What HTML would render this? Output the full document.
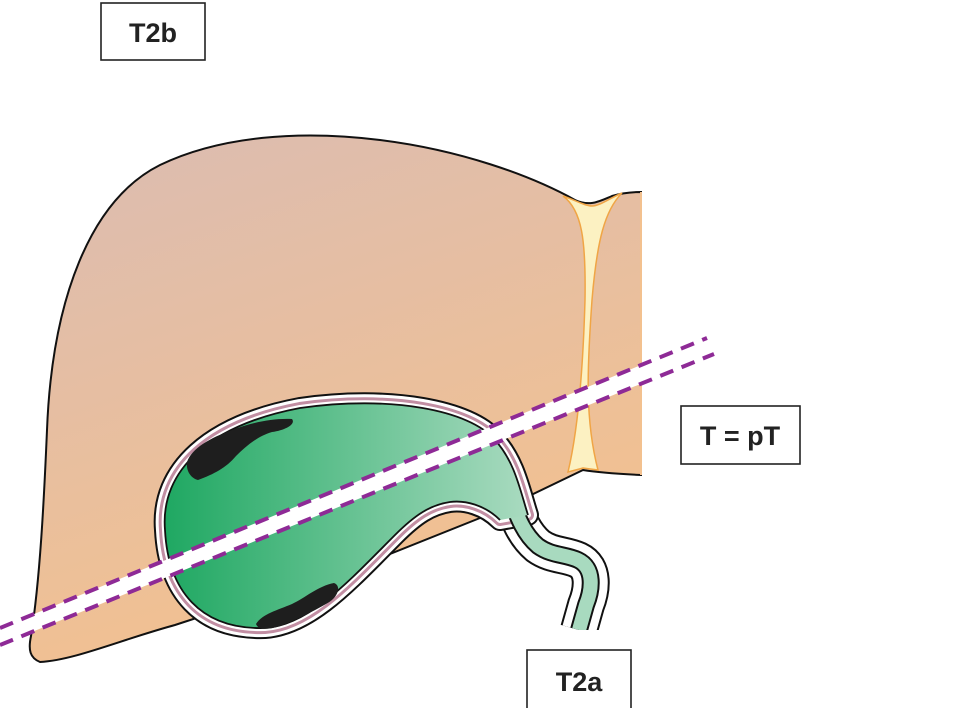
<!DOCTYPE html>
<html><head><meta charset="utf-8"><style>
html,body{margin:0;padding:0;background:#fff;}
svg{display:block;}
text{font-family:"Liberation Sans",sans-serif;font-weight:bold;}
</style></head><body>
<svg width="971" height="708" viewBox="0 0 971 708" xmlns="http://www.w3.org/2000/svg">
<defs>
<linearGradient id="lv" x1="0" y1="0" x2="0.4" y2="1">
<stop offset="0" stop-color="#dbbcb2"/><stop offset="1" stop-color="#f3c18f"/>
</linearGradient>
<linearGradient id="gb" x1="165" y1="0" x2="525" y2="0" gradientUnits="userSpaceOnUse">
<stop offset="0" stop-color="#1fa862"/><stop offset="1" stop-color="#a8dabf"/>
</linearGradient>
</defs>
<!-- liver -->
<path d="M40 662 C30 658 28 650 31 636 C40 580 44 500 47 430 C52 300 90 200 160 165 C220 136 300 130 380 140 C460 150 530 175 575 200 C590 207 600 201 612 196 C625 192 635 192 641 192 L641 475 C620 474 595 472 583 470 L500 510 L380 558 L175 625 C120 640 75 660 40 662 Z" fill="url(#lv)" stroke="#111" stroke-width="2"/>
<!-- ligament -->
<path d="M563 196 C575 200 585 206 592 206 C600 206 610 198 622 193 C605 210 597 240 592 300 C587 370 585 420 598 470 L583 468 L568 472 C578 430 583 370 585 300 C586 240 582 210 563 196 Z" fill="#fcf1c2" stroke="#f0a545" stroke-width="1.5"/>
<path d="M641 192 L641 475" stroke="#f3c18f" stroke-width="2"/>
<!-- duct outer -->
<path d="M510 495 C518 520 525 535 538 546 C552 556 565 554 578 560 C595 568 592 590 586 605 L579 630" fill="none" stroke="#111" stroke-width="38"/>
<path d="M510 495 C518 520 525 535 538 546 C552 556 565 554 578 560 C595 568 592 590 586 605 L579 630" fill="none" stroke="#fff" stroke-width="34"/>
<!-- gallbladder wall layers -->
<g fill="none" stroke-linejoin="round">
<path d="M165 530 C160 470 210 425 300 408 C390 395 470 410 495 440 C515 462 520 490 528 515 L500 520 C485 505 465 500 450 502 C430 505 415 515 395 535 C350 580 310 625 265 628 C200 630 168 590 165 530 Z" stroke="#111" stroke-width="22"/>
<path d="M165 530 C160 470 210 425 300 408 C390 395 470 410 495 440 C515 462 520 490 528 515 L500 520 C485 505 465 500 450 502 C430 505 415 515 395 535 C350 580 310 625 265 628 C200 630 168 590 165 530 Z" stroke="#fff" stroke-width="18"/>
<path d="M165 530 C160 470 210 425 300 408 C390 395 470 410 495 440 C515 462 520 490 528 515 L500 520 C485 505 465 500 450 502 C430 505 415 515 395 535 C350 580 310 625 265 628 C200 630 168 590 165 530 Z" stroke="#c28ea3" stroke-width="12"/>
<path d="M165 530 C160 470 210 425 300 408 C390 395 470 410 495 440 C515 462 520 490 528 515 L500 520 C485 505 465 500 450 502 C430 505 415 515 395 535 C350 580 310 625 265 628 C200 630 168 590 165 530 Z" stroke="#fff" stroke-width="6"/>
</g>
<!-- duct inner -->
<path d="M508 490 C518 520 525 535 538 546 C552 556 565 554 578 560 C595 568 592 590 586 605 L579 630" fill="none" stroke="#111" stroke-width="18"/>
<path d="M508 490 C518 520 525 535 538 546 C552 556 565 554 578 560 C595 568 592 590 586 605 L579 630" fill="none" stroke="#a8dabf" stroke-width="14"/>
<rect x="540" y="630" width="80" height="20" fill="#fff"/>
<!-- body fill -->
<path d="M165 530 C160 470 210 425 300 408 C390 395 470 410 495 440 C515 462 520 490 528 515 L500 520 C485 505 465 500 450 502 C430 505 415 515 395 535 C350 580 310 625 265 628 C200 630 168 590 165 530 Z" fill="url(#gb)"/>
<path d="M528 515 C520 490 515 462 495 440 C470 410 390 395 300 408 C210 425 160 470 165 530 C168 590 200 630 265 628 C310 625 350 580 395 535 C415 515 430 505 450 502 C465 500 485 505 500 520" fill="none" stroke="#111" stroke-width="1.8"/>
<!-- tumor patches -->
<path d="M187 462 C192 448 210 438 232 430 C250 423 272 418 292 419 C296 424 286 430 272 432 C258 436 246 446 236 456 C226 468 214 474 198 480 C190 478 186 470 187 462 Z" fill="#1e1e1e"/>
<path d="M256 624 C262 614 278 610 292 604 C305 598 318 586 334 583 C342 586 338 598 326 604 C312 612 296 620 280 626 C268 630 258 630 256 624 Z" fill="#1e1e1e"/>
<!-- cut band -->
<polygon points="0,628 707,338 714,354 0,645" fill="#fff"/>
<line x1="0" y1="628" x2="707" y2="338" stroke="#8e2a96" stroke-width="4" stroke-dasharray="14 9"/>
<line x1="0" y1="645" x2="714" y2="354" stroke="#8e2a96" stroke-width="4" stroke-dasharray="14 9"/>
<!-- labels -->
<rect x="101" y="3" width="104" height="57" fill="#fff" stroke="#222" stroke-width="1.6"/>
<text x="153" y="42" font-size="27" text-anchor="middle" fill="#222">T2b</text>
<rect x="681" y="406" width="119" height="58" fill="#fff" stroke="#222" stroke-width="1.6"/>
<text x="740" y="445" font-size="27" text-anchor="middle" fill="#222">T = pT</text>
<rect x="527" y="650" width="104" height="60" fill="#fff" stroke="#222" stroke-width="1.6"/>
<text x="579" y="691" font-size="27" text-anchor="middle" fill="#222">T2a</text>
</svg>
</body></html>
